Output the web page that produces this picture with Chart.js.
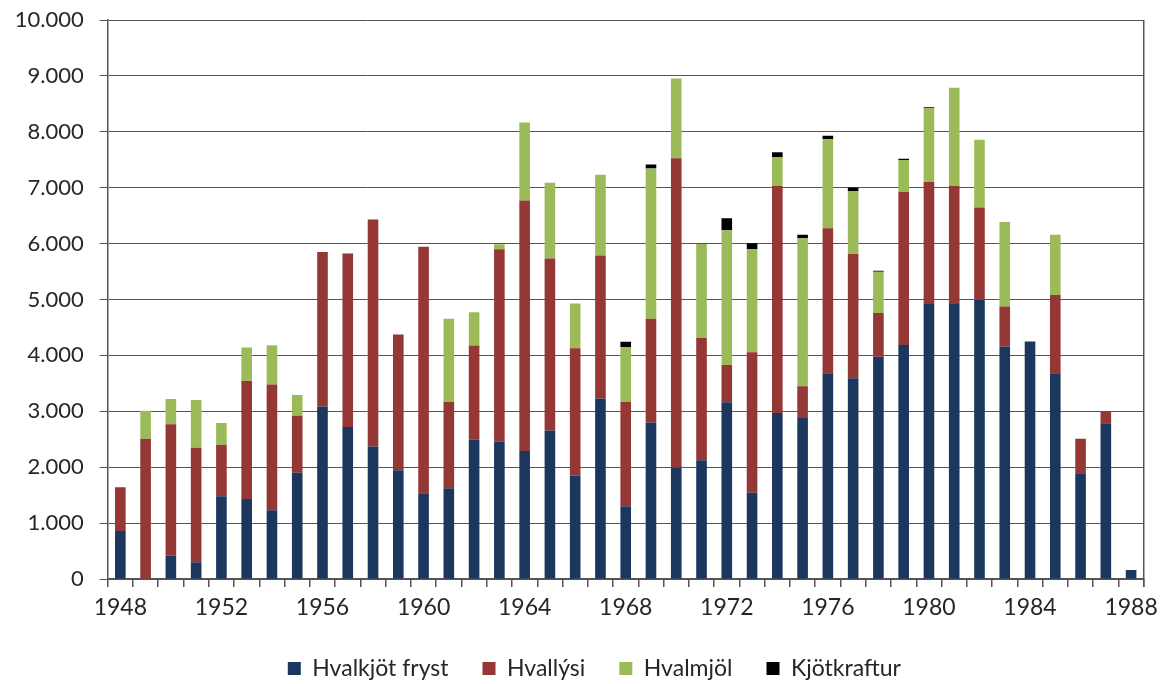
<!DOCTYPE html>
<html>
<head>
<meta charset="utf-8">
<script src="https://cdn.jsdelivr.net/npm/chart.js@4"></script>
<style>
  html, body { margin: 0; padding: 0; background: #fff; }
  #wrap { width: 1165px; height: 684px; position: relative; }
</style>
</head>
<body>
<div id="wrap"><canvas id="chart"></canvas></div>
<script>
const years = [
  '1948','1949','1950','1951','1952','1953','1954','1955','1956','1957',
  '1958','1959','1960','1961','1962','1963','1964','1965','1966','1967',
  '1968','1969','1970','1971','1972','1973','1974','1975','1976','1977',
  '1978','1979','1980','1981','1982','1983','1984','1985','1986','1987','1988'
];

// tonn per year
const hvalkjotFryst = [
  860, 0, 420, 300, 1480, 1430, 1230, 1900, 3085, 2720,
  2370, 1945, 1535, 1625, 2495, 2455, 2290, 2655, 1850, 3230,
  1300, 2800, 1990, 2125, 3160, 1545, 2970, 2880, 3680, 3590,
  3975, 4185, 4920, 4920, 4990, 4160, 4250, 3680, 1890, 2785, 160
];
const hvallysi = [
  780, 2510, 2350, 2050, 920, 2110, 2250, 1020, 2765, 3105,
  4060, 2430, 4410, 1540, 1680, 3445, 4480, 3080, 2280, 2555,
  1865, 1855, 5535, 2185, 670, 2510, 4065, 570, 2595, 2225,
  785, 2740, 2180, 2110, 1655, 715, 0, 1400, 620, 215, 0
];
const hvalmjol = [
  0, 500, 450, 850, 390, 600, 700, 370, 0, 0,
  0, 0, 0, 1490, 595, 90, 1395, 1355, 800, 1445,
  985, 2690, 1430, 1685, 2410, 1845, 515, 2645, 1590, 1125,
  735, 570, 1320, 1760, 1215, 1510, 0, 1080, 0, 0, 0
];
const kjotkraftur = [
  0, 0, 0, 0, 0, 0, 0, 0, 0, 0,
  0, 0, 0, 0, 0, 0, 0, 0, 0, 0,
  95, 70, 0, 0, 215, 105, 85, 65, 65, 65,
  20, 25, 20, 0, 0, 0, 0, 0, 0, 0, 0
];
const yTicks = [0, 1000, 2000, 3000, 4000, 5000, 6000, 7000, 8000, 9000, 10000];

const FONT = 'Lato';
const FONT_SIZE = 23;
const TEXT = '#262626';
const LINE = '#555555';

function thousands(v) {
  return String(v).replace(/\B(?=(\d{3})+(?!\d))/g, '.');
}

// frame line on the right side of the plot area
const plotFrame = {
  id: 'plotFrame',
  afterDraw(chart) {
    const { ctx, chartArea } = chart;
    ctx.save();
    ctx.strokeStyle = LINE;
    ctx.lineWidth = 1.5;
    ctx.beginPath();
    ctx.moveTo(chartArea.right, chartArea.top);
    ctx.lineTo(chartArea.right, chartArea.bottom + 8);
    ctx.stroke();
    ctx.restore();
  }
};

// nudge the legend row a little to the right
const legendShift = {
  id: 'legendShift',
  afterLayout(chart) {
    if (chart.legend) {
      chart.legend.left += 8;
      chart.legend.right += 8;
    }
  }
};

const ds = (label, data, color) => ({
  label, data,
  backgroundColor: color,
  borderWidth: 0,
  barPercentage: 0.42,
  categoryPercentage: 1
});

new Chart(document.getElementById('chart'), {
  type: 'bar',
  data: {
    labels: years,
    datasets: [
      ds('Hvalkjöt fryst', hvalkjotFryst, '#1b375e'),
      ds('Hvallýsi', hvallysi, '#953735'),
      ds('Hvalmjöl', hvalmjol, '#9bbb59'),
      ds('Kjötkraftur', kjotkraftur, '#000000')
    ]
  },
  plugins: [plotFrame, legendShift],
  options: {
    responsive: true,
    maintainAspectRatio: false,
    animation: false,
    layout: { padding: { left: 7.7, right: 0, top: 20, bottom: -6 } },
    plugins: {
      tooltip: { enabled: false },
      legend: {
        position: 'bottom',
        labels: {
          font: { family: FONT, size: FONT_SIZE },
          color: TEXT,
          boxWidth: 13,
          boxHeight: 13,
          padding: 34
        }
      }
    },
    scales: {
      x: {
        stacked: true,
        offset: true,
        afterFit(scale) { scale.height = 44; },
        grid: {
          offset: true,
          drawOnChartArea: false,
          drawTicks: true,
          tickLength: 8,
          color: LINE,
          lineWidth: 1.5
        },
        border: { color: LINE, width: 1.5 },
        ticks: {
          autoSkip: false,
          maxRotation: 0,
          padding: 7,
          color: TEXT,
          font: { family: FONT, size: FONT_SIZE },
          callback(value, index) {
            return index % 4 === 0 ? years[index] : '';
          }
        }
      },
      y: {
        stacked: true,
        min: 0,
        max: 10000,
        afterFit(scale) { scale.width = 100; },
        afterBuildTicks(scale) {
          scale.ticks = yTicks.map(v => ({ value: v }));
        },
        grid: {
          color: LINE,
          lineWidth: 1,
          tickLength: 8
        },
        border: { color: LINE, width: 1.5 },
        ticks: {
          padding: 16,
          color: TEXT,
          // small lineHeight keeps the top label from pushing the plot down
          font: { family: FONT, size: 22, lineHeight: 0.3 },
          callback(value) { return thousands(value); }
        }
      },
      // empty axis that only reserves the gap right of the plot
      yRight: {
        position: 'right',
        display: true,
        min: 0,
        max: 10000,
        afterFit(scale) { scale.width = 18.3; },
        grid: { display: false, drawTicks: false },
        border: { display: false },
        ticks: { display: false }
      }
    }
  }
});
</script>
</body>
</html>
